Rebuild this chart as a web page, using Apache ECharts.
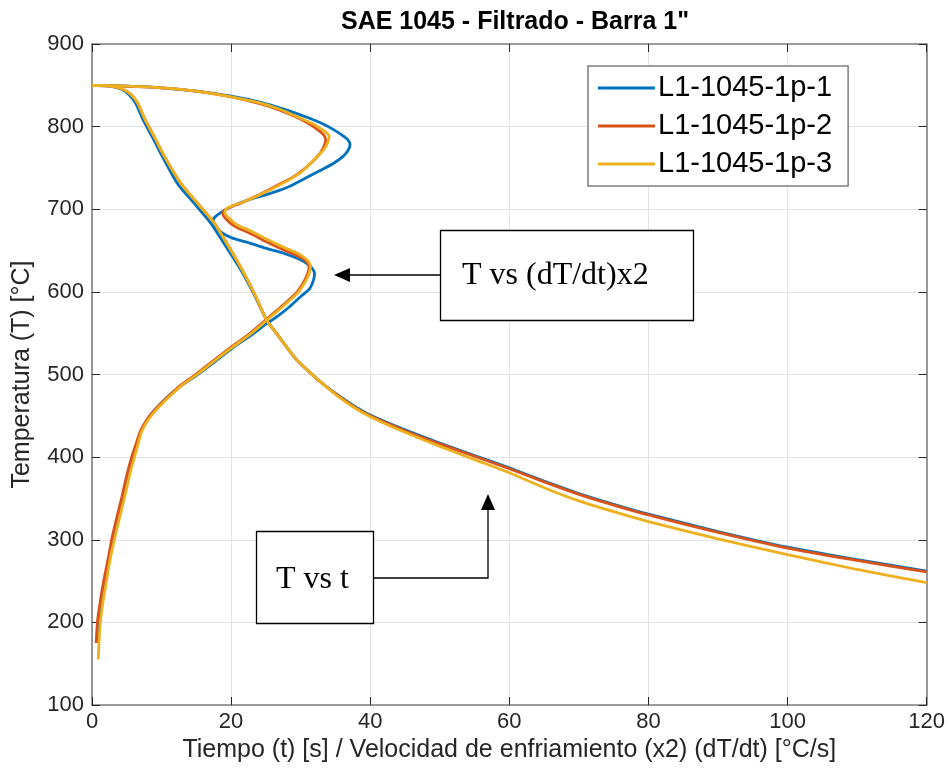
<!DOCTYPE html>
<html>
<head>
<meta charset="utf-8">
<script src="https://cdn.jsdelivr.net/npm/echarts@6/dist/echarts.min.js"></script>
<style>
html,body{margin:0;padding:0;background:#fff;}
#chart{width:948px;height:774px;}
</style>
</head>
<body>
<div id="chart"></div>
<script>
// ---------- data ----------
const seriesNames = ['L1-1045-1p-1', 'L1-1045-1p-2', 'L1-1045-1p-3'];
const seriesColors = ['#0072BD', '#D95319', '#EDB120'];

// T vs (dT/dt)x2  (x = cooling rate x2, y = temperature)
const rateX1 = [0, 5, 10, 15, 20, 24, 28, 31, 33, 34.6, 35.9, 36.8, 37.1, 36.8, 36.1, 34.8, 33.3, 31, 28.2, 25.2, 22.4, 20, 18.5, 17.6, 17.4, 17.9, 18.6, 20.2, 22.7, 25.3, 27.5, 29.4, 30.8, 31.6, 32.0, 31.8, 31.3, 30.1, 28.4, 26.6, 25, 22.8, 20.2, 17.6, 15.2, 13.1, 11.4, 9.9, 8.5, 7.6, 7.0, 6.4, 5.9, 5.2, 4.5, 3.8, 3.0, 2.4, 1.9, 1.4, 0.9, 0.7];
const rateT1 = [850, 849, 847, 843, 837, 830, 820, 811, 804, 797, 790, 784, 778, 771, 764, 756, 749, 739, 727, 718, 711, 703, 696, 690, 685, 679, 672, 665, 659, 652, 647, 641, 635, 629, 622, 613, 604, 595, 582, 570, 561, 547, 532, 515, 500, 488, 477, 465, 452, 440, 430, 415, 400, 378, 352, 328, 303, 276, 251, 226, 202, 175];

const rateX2 = [0, 5, 10, 15, 20, 24, 27, 29.5, 31.5, 32.8, 33.4, 33.6, 33.4, 32.8, 31.5, 29.1, 26.2, 23.4, 21.3, 20.0, 19.1, 18.8, 19.3, 20.6, 22.7, 25.0, 27.5, 29.2, 30.4, 31.0, 31.2, 31.0, 30.5, 29.5, 27.6, 25.8, 24.3, 22.3, 19.8, 17.2, 14.9, 12.9, 11.3, 9.8, 8.4, 7.5, 6.9, 6.3, 5.7, 5.0, 4.3, 3.6, 2.9, 2.3, 1.7, 1.2, 0.8, 0.6];
const rateT2 = [850, 849, 847, 843, 836, 828, 820, 811, 802, 794, 789, 784, 777, 768, 756, 740, 727, 715, 707, 703, 699, 695, 688, 679, 671, 661, 651, 645, 640, 635, 630, 622, 613, 600, 585, 572, 561, 547, 532, 515, 500, 488, 476, 464, 451, 440, 430, 415, 400, 378, 352, 328, 303, 276, 251, 226, 202, 175];

const rateX3 = [0, 5, 10, 15, 20, 24, 27, 29.5, 31.6, 33.0, 33.8, 34.1, 33.9, 33.4, 32.2, 29.8, 26.9, 24.0, 21.8, 20.4, 19.4, 19.1, 19.6, 20.9, 23.0, 25.3, 27.8, 29.5, 30.6, 31.2, 31.4, 31.2, 30.7, 29.7, 27.8, 26.0, 24.5, 22.5, 20.0, 17.4, 15.1, 13.1, 11.5, 10.0, 8.6, 7.7, 7.1, 6.6, 6.1, 5.4, 4.7, 4.0, 3.3, 2.6, 2.1, 1.6, 1.2, 1.0, 0.9];
const rateT3 = [850, 849, 847, 843, 836, 829, 821, 812, 804, 797, 792, 788, 781, 773, 762, 743, 729, 717, 709, 705, 701, 697, 690, 681, 673, 663, 653, 647, 641, 636, 630, 622, 613, 600, 585, 572, 561, 547, 532, 515, 500, 488, 476, 464, 451, 440, 430, 415, 400, 378, 352, 328, 303, 276, 251, 226, 200, 175, 155];

// T vs t  (x = time, y = temperature)
const timeX1 = [0, 2.5, 4.3, 5.4, 6.3, 7.3, 8.7, 10.1, 12.3, 14.7, 17.1, 19.1, 21.3, 23.3, 25.1, 26.5, 28, 29.4, 31, 33, 35, 37.5, 40, 45, 50, 55, 60, 65, 70, 75, 80, 90, 100, 110, 120];
const timeT1 = [850, 849, 845, 838, 828, 809, 787, 764, 731, 707, 683, 657, 628, 597, 566, 550, 533, 518, 505, 490, 477, 463, 451, 433, 417, 402, 387, 371, 356, 343, 331, 310, 291, 276, 262];

const timeX2 = [0, 2.5, 4.5, 5.7, 6.6, 7.6, 9, 10.4, 12.8, 15.2, 17.6, 19.5, 21.5, 23.4, 25.1, 26.5, 28, 29.4, 31, 33, 35, 37.5, 40, 45, 50, 55, 60, 65, 70, 75, 80, 90, 100, 110, 120];
const timeT2 = [850, 849, 845, 838, 828, 809, 787, 764, 731, 707, 683, 657, 628, 597, 566, 550, 533, 518, 505, 490, 477, 462, 450, 432, 416, 401, 386, 370, 355, 342, 330, 309, 290, 275, 261];

const timeX3 = [0, 2.5, 4.5, 5.7, 6.6, 7.6, 9, 10.4, 12.8, 15.2, 17.6, 19.5, 21.5, 23.4, 25.1, 26.5, 28, 29.4, 31, 33, 35, 37.5, 40, 45, 50, 55, 60, 65, 70, 75, 80, 90, 100, 110, 120];
const timeT3 = [850, 849, 845, 838, 828, 809, 787, 764, 731, 707, 683, 657, 628, 597, 566, 550, 533, 518, 505, 490, 476, 461, 449, 430, 413, 397, 381, 363, 347, 334, 322, 301, 282, 264, 248];

const titleText = 'SAE 1045 - Filtrado - Barra 1"';
const xName = 'Tiempo (t) [s] / Velocidad de enfriamiento (x2) (dT/dt) [°C/s]';
const yName = 'Temperatura (T) [°C]';
const noteRate = 'T vs (dT/dt)x2';
const noteTime = 'T vs t';

// ---------- build ----------
function zip(xs, ys) { return xs.map((x, i) => [x, ys[i]]); }
const rateData = [zip(rateX1, rateT1), zip(rateX2, rateT2), zip(rateX3, rateT3)];
const timeData = [zip(timeX1, timeT1), zip(timeX2, timeT2), zip(timeX3, timeT3)];

const series = [];
for (let i = 0; i < 3; i++) {
  [rateData[i], timeData[i]].forEach(d => {
    series.push({
      name: seriesNames[i],
      type: 'line',
      data: d,
      symbol: 'none',
      smooth: 0.25,
      color: seriesColors[i],
      lineStyle: { width: 2.8, color: seriesColors[i] },
      z: 2 + i,
      animation: false
    });
  });
}

const FONT = "'Liberation Sans', Arial, Helvetica, sans-serif";
const SERIF = "'Liberation Serif', 'Times New Roman', serif";
const axisLineStyle = { color: '#7f7f7f', width: 1.6 };
const gridLine = { show: true, lineStyle: { color: '#e3e3e3', width: 1 } };

const chart = echarts.init(document.getElementById('chart'), null, { renderer: 'canvas' });
chart.setOption({
  backgroundColor: '#fff',
  animation: false,
  title: {
    text: titleText,
    left: 510, top: 5, textAlign: 'center',
    textStyle: { fontFamily: FONT, fontSize: 25, fontWeight: 'bold', color: '#000' }
  },
  legend: {
    data: seriesNames,
    orient: 'vertical',
    left: 588, top: 66,
    icon: 'rect',
    itemWidth: 57, itemHeight: 3, itemGap: 8,
    padding: [7, 16, 7, 10],
    backgroundColor: '#fff',
    borderColor: '#7f7f7f', borderWidth: 1.5,
    textStyle: { fontFamily: FONT, fontSize: 29, color: '#000', lineHeight: 30, padding: [0, 0, 0, -2] }
  },
  grid: { left: 92, right: 21, top: 44, bottom: 69, containLabel: false },
  xAxis: [{
    type: 'value', min: 0, max: 120, interval: 20,
    name: xName, nameLocation: 'middle', nameGap: 29,
    nameTextStyle: { fontFamily: FONT, fontSize: 25, color: '#262626' },
    axisLine: { show: true, onZero: false, lineStyle: axisLineStyle },
    axisTick: { show: true, inside: true, length: 8, lineStyle: { color: '#262626' } },
    axisLabel: { fontFamily: FONT, fontSize: 22, color: '#262626', margin: 6 },
    splitLine: gridLine
  }, {
    type: 'value', min: 0, max: 120, interval: 20, position: 'top',
    axisLine: { show: true, onZero: false, lineStyle: axisLineStyle },
    axisTick: { show: true, inside: true, length: 8, lineStyle: { color: '#262626' } },
    axisLabel: { show: false }, splitLine: { show: false }
  }],
  yAxis: [{
    type: 'value', min: 100, max: 900, interval: 100,
    name: yName, nameLocation: 'middle', nameGap: 57,
    nameTextStyle: { fontFamily: FONT, fontSize: 25, color: '#262626' },
    axisLine: { show: true, onZero: false, lineStyle: axisLineStyle },
    axisTick: { show: true, inside: true, length: 8, lineStyle: { color: '#262626' } },
    axisLabel: { fontFamily: FONT, fontSize: 22, color: '#262626', margin: 8 },
    splitLine: gridLine
  }, {
    type: 'value', min: 100, max: 900, interval: 100, position: 'right',
    axisLine: { show: true, onZero: false, lineStyle: axisLineStyle },
    axisTick: { show: true, inside: true, length: 8, lineStyle: { color: '#262626' } },
    axisLabel: { show: false }, splitLine: { show: false }
  }],
  series: series,
  graphic: [
    { type: 'rect', shape: { x: 440.5, y: 230.5, width: 253, height: 90 },
      style: { fill: '#fff', stroke: '#000', lineWidth: 1.3 }, z: 100 },
    { type: 'text', x: 462, y: 276,
      style: { text: noteRate, font: '32px ' + SERIF, fill: '#000', textVerticalAlign: 'middle' }, z: 101 },
    { type: 'line', shape: { x1: 440, y1: 275, x2: 348, y2: 275 },
      style: { stroke: '#000', lineWidth: 1.3 }, z: 100 },
    { type: 'polygon', shape: { points: [[334, 275], [350, 268], [350, 282]] },
      style: { fill: '#000' }, z: 100 },
    { type: 'rect', shape: { x: 256.5, y: 531.5, width: 117, height: 92 },
      style: { fill: '#fff', stroke: '#000', lineWidth: 1.3 }, z: 100 },
    { type: 'text', x: 276, y: 580,
      style: { text: noteTime, font: '32px ' + SERIF, fill: '#000', textVerticalAlign: 'middle' }, z: 101 },
    { type: 'polyline', shape: { points: [[373, 578], [488, 578], [488, 508]] },
      style: { stroke: '#000', lineWidth: 1.3, fill: null }, z: 100 },
    { type: 'polygon', shape: { points: [[488, 494], [481, 510], [495, 510]] },
      style: { fill: '#000' }, z: 100 }
  ]
});
</script>
</body>
</html>
